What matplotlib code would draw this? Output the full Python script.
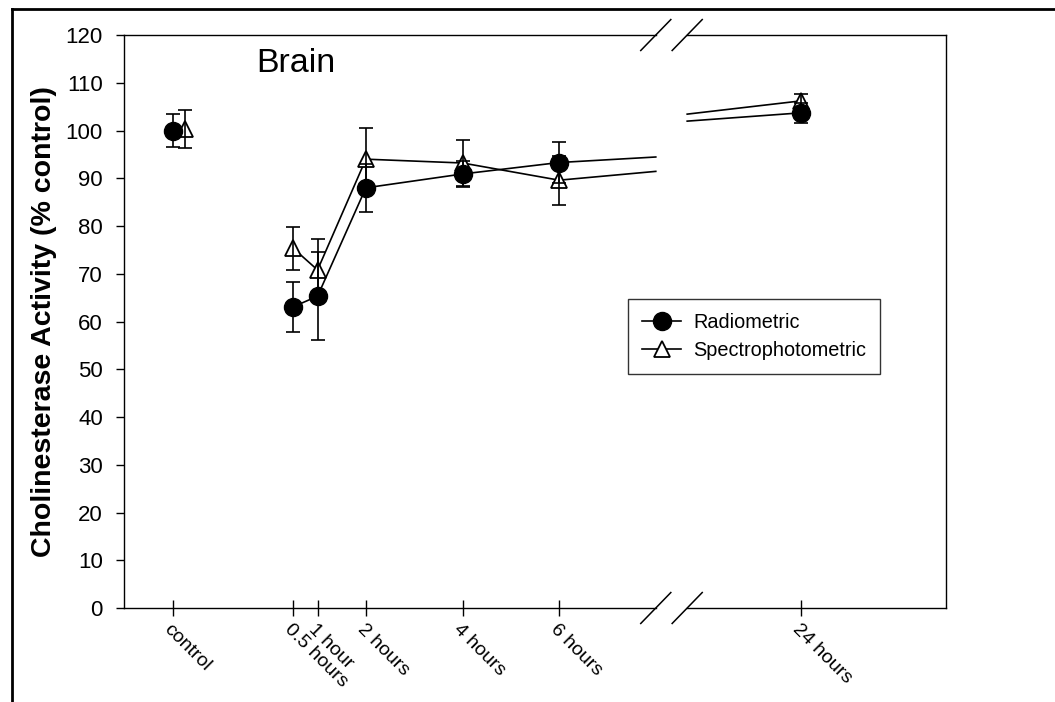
import matplotlib

matplotlib.use("Agg")
import matplotlib.pyplot as plt
import numpy as np
from matplotlib.lines import Line2D

plt.rcParams["font.family"] = ["Liberation Sans", "DejaVu Sans"]

# sampling times (hours after dosing); control is plotted on its own at the left
HOURS = [0.5, 1, 2, 4, 6, 24]
RADIO = [63.1, 65.3, 88.0, 90.9, 93.3, 103.7]
RADIO_ERR = [5.2, 9.2, 5.0, 2.7, 4.2, 2.1]
SPEC = [75.3, 70.8, 94.0, 93.2, 89.6, 106.2]
SPEC_ERR = [4.5, 6.5, 6.5, 4.8, 5.1, 1.4]
CONTROL_RADIO, CONTROL_RADIO_ERR = 100.0, 3.5
CONTROL_SPEC, CONTROL_SPEC_ERR = 100.3, 4.0
TICK_LABELS = ["control", "0.5 hours", "1 hour", "2 hours", "4 hours", "6 hours", "24 hours"]

# broken x axis: linear in hours up to the cut, then a compressed stretch up to 24 h
CONTROL_X = -2.0
SPEC_CONTROL_SHIFT = 0.26
BREAK_LO, BREAK_HI = 8.0, 8.65
RESUME_H = 21.0
POST_SCALE = 0.783
XMIN, XMAX = -3.0, 14.0


def xpos(h):
    h = np.asarray(h, float)
    return np.where(h <= BREAK_LO, h, BREAK_HI + (h - RESUME_H) * POST_SCALE)


def split_line(vals):
    h = np.array(HOURS, float)
    v = np.array(vals, float)
    pre = h <= BREAK_LO
    seg1 = (np.r_[h[pre], BREAK_LO], np.r_[v[pre], np.interp(BREAK_LO, h, v)])
    seg2 = (np.r_[RESUME_H, h[~pre]], np.r_[np.interp(RESUME_H, h, v), v[~pre]])
    return seg1, seg2


fig = plt.figure(figsize=(10.55, 7.02), dpi=100)
ax = fig.add_axes([0.1178, 0.1339, 0.7786, 0.8162])

lw = 1.2
ekw = dict(fmt="none", ecolor="black", elinewidth=1.2, capsize=5.3, capthick=1.2)
tri = dict(ls="none", marker="^", ms=11.5, mfc="white", mec="black", mew=1.3)
dot = dict(ls="none", marker="o", ms=13, mfc="black", mec="black")

# spectrophotometric (open triangles) first, radiometric circles drawn on top
for seg in split_line(SPEC):
    ax.plot(xpos(seg[0]), seg[1], color="black", lw=lw, zorder=2)
for seg in split_line(RADIO):
    ax.plot(xpos(seg[0]), seg[1], color="black", lw=lw, zorder=2)

ax.plot(xpos(HOURS), SPEC, zorder=3, **tri)
ax.plot([CONTROL_X + SPEC_CONTROL_SHIFT], [CONTROL_SPEC], zorder=3, **tri)
ax.errorbar(xpos(HOURS), SPEC, yerr=SPEC_ERR, zorder=4, **ekw)
ax.errorbar([CONTROL_X + SPEC_CONTROL_SHIFT], [CONTROL_SPEC], yerr=[CONTROL_SPEC_ERR], zorder=4, **ekw)

ax.errorbar(xpos(HOURS), RADIO, yerr=RADIO_ERR, zorder=4, **ekw)
ax.errorbar([CONTROL_X], [CONTROL_RADIO], yerr=[CONTROL_RADIO_ERR], zorder=4, **ekw)
ax.plot(xpos(HOURS), RADIO, zorder=5, **dot)
ax.plot([CONTROL_X], [CONTROL_RADIO], zorder=5, **dot)

ax.set_xlim(XMIN, XMAX)
ax.set_ylim(0, 120)
ax.set_yticks(np.arange(0, 121, 10))
ax.tick_params(axis="y", direction="out", length=5.5, width=1, labelsize=16, pad=10)
ax.set_xticks(np.r_[CONTROL_X, xpos(HOURS)])
ax.set_xticklabels(TICK_LABELS, rotation=-45, ha="left", va="top", rotation_mode="anchor")
ax.tick_params(axis="x", direction="inout", length=11, width=1, labelsize=14, pad=4)
ax.set_ylabel("Cholinesterase Activity (% control)", fontsize=20.5, fontweight="bold", labelpad=6)

for s in ("left", "right"):
    ax.spines[s].set_linewidth(1.0)
for s in ("top", "bottom"):
    ax.spines[s].set_visible(False)

# top/bottom spines with a gap for the axis break, plus the // marks
xt = ax.get_xaxis_transform()
for y in (0, 1):
    ax.plot([XMIN, BREAK_LO], [y, y], color="black", lw=1.0, transform=xt, clip_on=False)
    ax.plot([BREAK_HI, XMAX], [y, y], color="black", lw=1.0, transform=xt, clip_on=False)
    for bx in (BREAK_LO, BREAK_HI):
        fx = (bx - XMIN) / (XMAX - XMIN)
        ax.plot([fx - 0.0183, fx + 0.0183], [y - 0.027, y + 0.027], color="black", lw=1.1,
                transform=ax.transAxes, clip_on=False)

ax.text(-0.27, 114, "Brain", fontsize=24.5, ha="left", va="center")

handles = [
    Line2D([], [], color="black", lw=lw, marker="o", ms=13, mfc="black", mec="black"),
    Line2D([], [], color="black", lw=lw, marker="^", ms=11.5, mfc="white", mec="black", mew=1.3),
]
leg = ax.legend(handles, ["Radiometric", "Spectrophotometric"], loc="upper left",
                bbox_to_anchor=(0.613, 0.539), fontsize=14.3, frameon=True, fancybox=False,
                borderpad=0.7, labelspacing=0.45, handlelength=2.0, handletextpad=0.6,
                borderaxespad=0)
leg.get_frame().set_edgecolor("black")
leg.get_frame().set_linewidth(1.0)

# outer frame of the scanned figure (left and top edges)
fig.add_artist(Line2D([0.0114, 0.0114], [0, 0.987], transform=fig.transFigure, color="black", lw=2))
fig.add_artist(Line2D([0.0114, 1], [0.987, 0.987], transform=fig.transFigure, color="black", lw=2))

fig.savefig("out.png", dpi=100)
